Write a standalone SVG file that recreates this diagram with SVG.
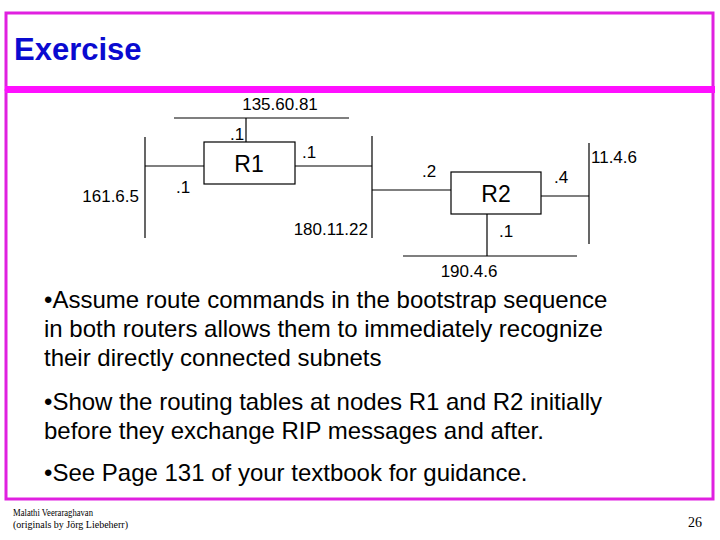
<svg xmlns="http://www.w3.org/2000/svg" width="720" height="540" viewBox="0 0 720 540">
<style>
.frame{fill:none;stroke:#e020e0;stroke-width:3}
.ln{stroke:#000;stroke-width:1.2;fill:none}
.box{fill:#fff;stroke:#000;stroke-width:1.2}
.lbl{font-family:"Liberation Sans",Arial,sans-serif;font-size:17px;fill:#000}
.rt{font-family:"Liberation Sans",Arial,sans-serif;font-size:23px;fill:#000;text-anchor:middle}
.body{font-family:"Liberation Sans",Arial,sans-serif;font-size:24px;fill:#000}
.foot{font-family:"Liberation Serif","Times New Roman",serif;fill:#000}
</style>
<rect width="720" height="540" fill="#fff"/>
<g id="frames">
<rect class="frame" x="6" y="13" width="707" height="76"/>
<rect class="frame" x="6" y="91" width="707" height="408"/>
<rect x="5" y="86" width="710" height="7" fill="#ff10ff"/>
</g>
<text id="title" x="14" y="60" font-family="'Liberation Sans',Arial,sans-serif" font-size="31" font-weight="bold" fill="#0a0ad0">Exercise</text>
<g id="connectors">
<line class="ln" x1="246" y1="118" x2="246" y2="142"/>
<line class="ln" x1="145" y1="166" x2="204" y2="166"/>
<line class="ln" x1="295" y1="166" x2="372" y2="166"/>
<line class="ln" x1="372" y1="190" x2="451" y2="190"/>
<line class="ln" x1="541" y1="196" x2="589" y2="196"/>
<line class="ln" x1="487" y1="214" x2="487" y2="256"/>
</g>
<g id="net-135">
<line class="ln" x1="174" y1="118" x2="349" y2="118"/>
<text class="lbl" x="280" y="110" text-anchor="middle">135.60.81</text>
</g>
<g id="net-161">
<line class="ln" x1="145" y1="137" x2="145" y2="238"/>
<text class="lbl" x="139" y="202" text-anchor="end">161.6.5</text>
</g>
<g id="net-180">
<line class="ln" x1="372" y1="136" x2="372" y2="238"/>
<text class="lbl" x="368" y="235" text-anchor="end">180.11.22</text>
</g>
<g id="net-11">
<line class="ln" x1="589" y1="143" x2="589" y2="244"/>
<text class="lbl" x="591" y="163">11.4.6</text>
</g>
<g id="net-190">
<line class="ln" x1="403" y1="256" x2="577" y2="256"/>
<text class="lbl" x="469" y="277" text-anchor="middle">190.4.6</text>
</g>
<g id="R1">
<rect class="box" x="204" y="142" width="91" height="42"/>
<text class="rt" x="249" y="172">R1</text>
<text class="lbl" x="230" y="140">.1</text>
<text class="lbl" x="176" y="193">.1</text>
<text class="lbl" x="302" y="158">.1</text>
</g>
<g id="R2">
<rect class="box" x="451" y="172" width="90" height="42"/>
<text class="rt" x="496" y="202">R2</text>
<text class="lbl" x="422" y="177">.2</text>
<text class="lbl" x="554" y="183">.4</text>
<text class="lbl" x="499" y="237">.1</text>
</g>
<g id="bullets">
<text class="body" x="44" y="308">•Assume route commands in the bootstrap sequence</text>
<text class="body" x="44" y="337">in both routers allows them to immediately recognize</text>
<text class="body" x="44" y="366">their directly connected subnets</text>
<text class="body" x="44" y="410">•Show the routing tables at nodes R1 and R2 initially</text>
<text class="body" x="44" y="439">before they exchange RIP messages and after.</text>
<text class="body" x="44" y="481">•See Page 131 of your textbook for guidance.</text>
</g>
<g id="footer">
<text class="foot" x="13" y="516" font-size="9.5" textLength="80" lengthAdjust="spacingAndGlyphs">Malathi Veeraraghavan</text>
<text class="foot" x="13" y="528" font-size="9.5" textLength="115" lengthAdjust="spacingAndGlyphs">(originals by Jörg Liebeherr)</text>
<text class="foot" x="688" y="527" font-size="14">26</text>
</g>
</svg>
